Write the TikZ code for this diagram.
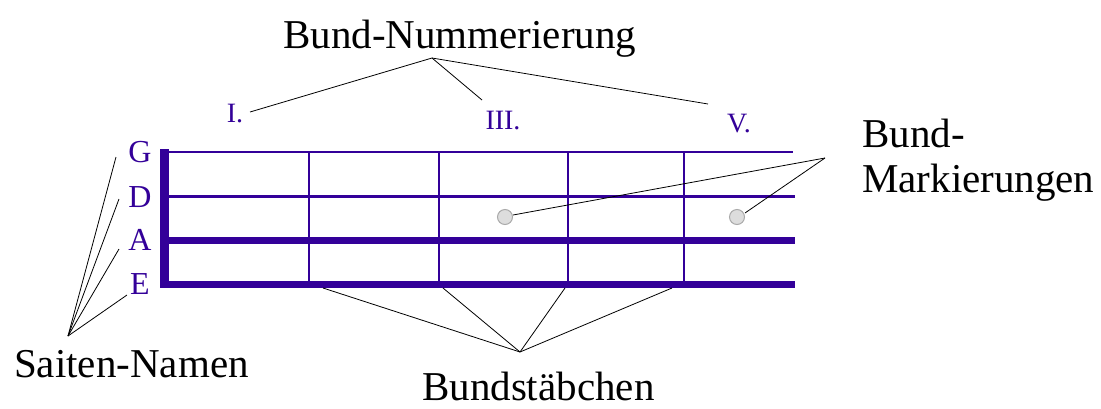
\documentclass[tikz,border=0pt]{standalone}
\usepackage{fontspec}
\setmainfont{Liberation Serif}
\definecolor{fret}{RGB}{51,0,153}
\definecolor{dotfill}{RGB}{221,221,221}
\definecolor{dotline}{RGB}{170,170,170}
\begin{document}
\begin{tikzpicture}[x=1pt,y=-1pt,
  caption/.style={inner sep=0pt, font=\fontsize{41}{45}\selectfont, text=black},
  strname/.style={inner sep=0pt, font=\fontsize{32}{34}\selectfont, text=fret},
  fretnum/.style={inner sep=0pt, font=\fontsize{28}{30}\selectfont, text=fret},
  pointer/.style={draw=black, line width=0.8pt},
  stringline/.style={draw=fret},
  fretline/.style={draw=fret, line width=2pt},
  marker/.style={circle, minimum size=15pt, inner sep=0pt, fill=dotfill, draw=dotline, line width=1pt}]
\useasboundingbox (0,0) rectangle (1101,408);
\fill[white] (0,0) rectangle (1101,408);

% frets
\foreach \x in {309,439,568,684}{
  \draw[fretline] (\x,151) -- (\x,285);
}
% strings
\draw[stringline, line width=2pt] (160,151.5) -- (793,151.5);
\draw[stringline, line width=3pt] (160,196.5) -- (795,196.5);
\draw[stringline, line width=7pt] (160,240) -- (795,240);
\draw[stringline, line width=7pt] (160,284) -- (795,284);
% nut
\fill[fret] (160,149) rectangle (169,288);

% markers
\node[marker] (m1) at (505,217) {};
\node[marker] (m2) at (737,217) {};

% string names
\node[strname] (G) at (140,152) {G};
\node[strname] (D) at (140,197) {D};
\node[strname] (A) at (140,240) {A};
\node[strname] (E) at (140,284) {E};

% fret numbers
\node[fretnum] (n1) at (235,114) {I.};
\node[fretnum] (n3) at (503,121) {III.};
\node[fretnum] (n5) at (739,124) {V.};

% captions
\node[caption, anchor=base west] (numcap) at (283,48) {Bund-Nummerierung};
\node[caption, anchor=base west] (strcap) at (14,377) {Saiten-Namen};
\node[caption, anchor=base west] (barcap) at (422,400) {Bundstäbchen};
\node[caption, anchor=base west, align=left] (mkcap) at (862,192) {Bund-\\Markierungen};

% pointer coordinates
\coordinate (numApex) at (432,58);
\coordinate (numI) at (250,112);
\coordinate (numIII) at (482,100);
\coordinate (numV) at (708,104);
\coordinate (strApex) at (68,336);
\coordinate (strG) at (116,157);
\coordinate (strD) at (119,199);
\coordinate (strA) at (119,249);
\coordinate (strE) at (127,295);
\coordinate (barApex) at (520,352);
\coordinate (bar1) at (323,288);
\coordinate (bar2) at (443,288);
\coordinate (bar3) at (565,288);
\coordinate (bar4) at (672,288);
\coordinate (mkApex) at (825,158);
\coordinate (mk1) at (513,215);
\coordinate (mk2) at (745,213);

\draw[pointer] (numApex) -- (numI);
\draw[pointer] (numApex) -- (numIII);
\draw[pointer] (numApex) -- (numV);
\draw[pointer] (strApex) -- (strG);
\draw[pointer] (strApex) -- (strD);
\draw[pointer] (strApex) -- (strA);
\draw[pointer] (strApex) -- (strE);
\draw[pointer] (barApex) -- (bar1);
\draw[pointer] (barApex) -- (bar2);
\draw[pointer] (barApex) -- (bar3);
\draw[pointer] (barApex) -- (bar4);
\draw[pointer] (mkApex) -- (mk1);
\draw[pointer] (mkApex) -- (mk2);
\end{tikzpicture}
\end{document}
